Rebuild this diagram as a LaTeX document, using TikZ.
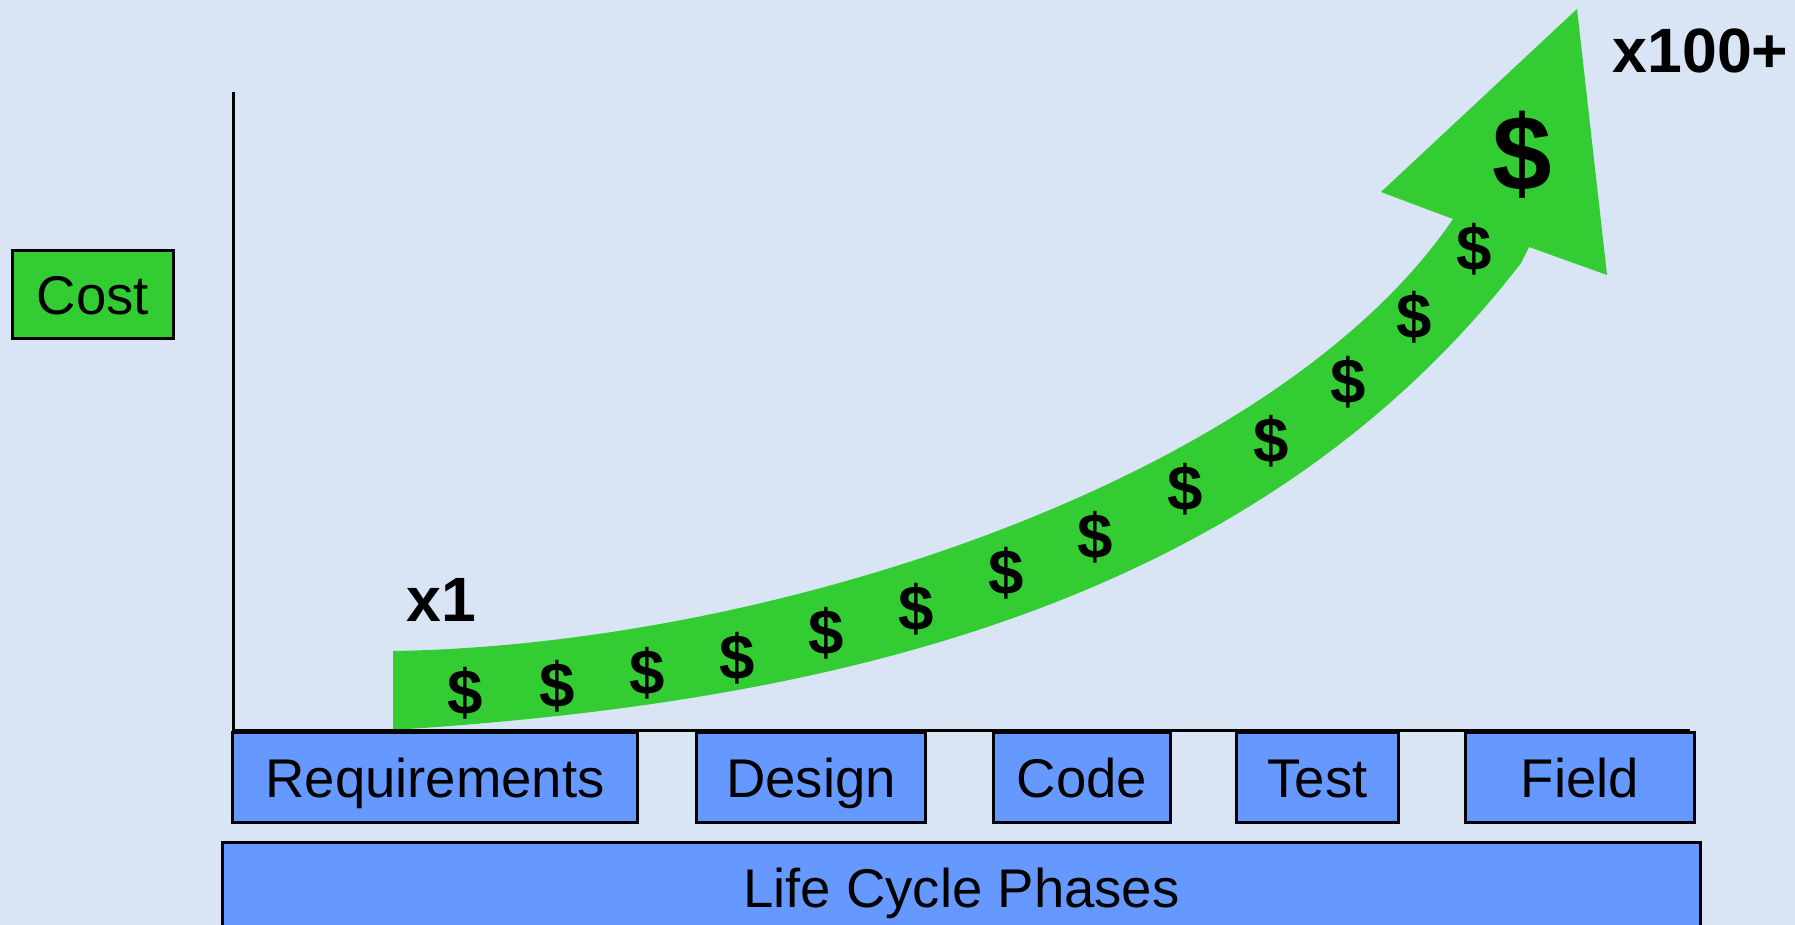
\documentclass[tikz,border=0pt]{standalone}
\usepackage{fontspec}
\setmainfont{Liberation Sans}
\definecolor{bg}{RGB}{217,228,245}
\definecolor{phaseblue}{RGB}{102,153,255}
\definecolor{costgreen}{RGB}{51,204,51}
\begin{document}
\begin{tikzpicture}[x=0.01cm,y=-0.01cm,
  boxbase/.style={draw=black,line width=0.85pt,inner sep=0pt,
    minimum height=0.89cm,text height=11.1pt,text depth=0pt,
    font=\fontsize{15.5}{18}\selectfont},
  phase/.style={boxbase,fill=phaseblue},
  dollar/.style={inner sep=0pt,font=\fontsize{18.1}{20}\selectfont\bfseries},
  bigdollar/.style={inner sep=0pt,font=\fontsize{30.4}{32}\selectfont\bfseries},
  factor/.style={inner sep=0pt,font=\fontsize{17.8}{20}\selectfont\bfseries},
  axis/.style={draw=black,line width=0.85pt}]
% page and background
\useasboundingbox (0,0) rectangle (1795,925);
\clip (0,0) rectangle (1795,925);
\fill[bg] (0,0) rectangle (1795,925);

% rising cost arrow
\fill[costgreen] (393,651) .. controls (775,645) and (1277,478) .. (1453,219)
  -- (1381,192) -- (1577,9) -- (1607,275) -- (1529,247) -- (1521,263)
  .. controls (1247,619) and (800,704) .. (393,730) -- cycle;

% axes
\coordinate (ytop) at (233.5,91.6);
\coordinate (origin) at (233.5,730.5);
\coordinate (xend) at (1690,730.5);
\draw[axis] (ytop) -- (origin) -- (xend);

% y axis label
\node[boxbase,fill=costgreen,minimum width=1.60cm,minimum height=0.87cm] (cost) at (93,294.5) {Cost};

% phases
\node[phase,minimum width=4.04cm] (req) at (435,777.5) {Requirements};
\node[phase,minimum width=2.28cm] (design) at (811,777.5) {Design};
\node[phase,minimum width=1.76cm] (code) at (1082,777.5) {Code};
\node[phase,minimum width=1.61cm] (test) at (1317.5,777.5) {Test};
\node[phase,minimum width=2.28cm] (field) at (1580,777.5) {Field};
\node[phase,minimum width=14.77cm] (phases) at (961.5,887.5) {Life Cycle Phases};

% cost factors
\node[factor] (x1) at (441.7,600) {x1};
\node[factor] (x100) at (1700.5,51) {x100+};

% dollars along the arrow
\node[dollar] (d1) at (465,693) {\$};
\node[dollar] (d2) at (557,686) {\$};
\node[dollar] (d3) at (647,673) {\$};
\node[dollar] (d4) at (737,658) {\$};
\node[dollar] (d5) at (826,633) {\$};
\node[dollar] (d6) at (916,609) {\$};
\node[dollar] (d7) at (1006,573) {\$};
\node[dollar] (d8) at (1095,537) {\$};
\node[dollar] (d9) at (1185,489) {\$};
\node[dollar] (d10) at (1271,441) {\$};
\node[dollar] (d11) at (1348,382) {\$};
\node[dollar] (d12) at (1414,317) {\$};
\node[dollar] (d13) at (1474,249) {\$};
\node[bigdollar] (dbig) at (1522.3,155) {\$};
\end{tikzpicture}
\end{document}
